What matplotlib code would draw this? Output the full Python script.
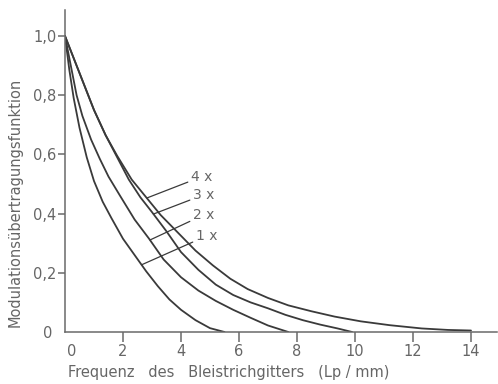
import matplotlib
matplotlib.use("Agg")
import matplotlib.pyplot as plt
import numpy as np
from matplotlib.transforms import ScaledTranslation

plt.rcParams["font.family"] = ["DejaVu Sans"]

x_1 = [0, 0.15, 0.3, 0.5, 0.75, 1.0, 1.3, 1.6, 2.0, 2.4, 2.8, 3.2, 3.6, 4.0, 4.5, 5.0, 5.5]
mtf_1 = [1.0, 0.885, 0.79, 0.69, 0.59, 0.51, 0.44, 0.385, 0.315, 0.26, 0.205, 0.155, 0.11,
         0.075, 0.04, 0.013, 0.0]

x_2 = [0, 0.2, 0.4, 0.6, 0.9, 1.2, 1.5, 1.9, 2.4, 2.9, 3.4, 4.0, 4.6, 5.2, 5.8, 6.4, 7.0, 7.7]
mtf_2 = [1.0, 0.9, 0.8, 0.73, 0.65, 0.585, 0.525, 0.46, 0.38, 0.315, 0.245, 0.185, 0.14,
         0.105, 0.075, 0.048, 0.022, 0.0]

x_3 = [0, 0.3, 0.6, 1.0, 1.4, 1.8, 2.2, 2.6, 3.0, 3.5, 4.0, 4.6, 5.2, 5.8, 6.4, 7.0, 7.6,
       8.2, 8.8, 9.4, 9.9]
mtf_3 = [1.0, 0.925, 0.85, 0.75, 0.665, 0.59, 0.515, 0.455, 0.405, 0.34, 0.27, 0.21, 0.16,
         0.125, 0.1, 0.08, 0.058, 0.04, 0.025, 0.012, 0.0]

x_4 = [0, 0.3, 0.6, 1.0, 1.4, 1.8, 2.3, 2.8, 3.3, 3.9, 4.5, 5.1, 5.7, 6.3, 7.0, 7.7, 8.5,
       9.3, 10.2, 11.2, 12.3, 13.2, 14.0]
mtf_4 = [1.0, 0.925, 0.85, 0.75, 0.665, 0.595, 0.515, 0.455, 0.395, 0.335, 0.275, 0.225,
         0.18, 0.145, 0.115, 0.09, 0.07, 0.052, 0.036, 0.023, 0.012, 0.007, 0.005]

curve_labels = ["4 x", "3 x", "2 x", "1 x"]
# Hinweislinien: Textposition und Frequenz des Anschlusspunkts auf der Kurve
label_pos = [(4.33, 0.524), (4.40, 0.463), (4.40, 0.395), (4.50, 0.324)]
label_hit_x = [2.82, 3.05, 2.93, 2.64]

x_ticks = [0, 2, 4, 6, 8, 10, 12, 14]
y_ticks = [0, 0.2, 0.4, 0.6, 0.8, 1.0]
y_ticklabels = ["0", "0,2", "0,4", "0,6", "0,8", "1,0"]

LINE = "#3a3a3a"
AXIS = "#6a6a6a"
TEXT = "#666666"

fig = plt.figure(figsize=(4.98, 3.84), dpi=100)
ax = fig.add_axes([65 / 498, 52 / 384, 432 / 498, 322 / 384])

curves = [(x_4, mtf_4), (x_3, mtf_3), (x_2, mtf_2), (x_1, mtf_1)]
for xs, ys in curves:
    ax.plot(xs, ys, color=LINE, linewidth=1.3, solid_capstyle="round")

for (xs, ys), text, pos, hx in zip(curves, curve_labels, label_pos, label_hit_x):
    hy = float(np.interp(hx, xs, ys))
    ax.annotate(text, xy=(hx, hy), xytext=pos, color=TEXT, fontsize=10,
                ha="left", va="center",
                arrowprops=dict(arrowstyle="-", color=LINE, linewidth=0.9,
                                shrinkA=0, shrinkB=0))

ax.set_xlim(0, 432 / 29)
ax.set_ylim(0, 322 / 296)

for side in ("top", "right"):
    ax.spines[side].set_visible(False)
for side in ("left", "bottom"):
    ax.spines[side].set_color(AXIS)
    ax.spines[side].set_linewidth(1.1)

ax.set_xticks(x_ticks)
ax.set_xticklabels([str(t) for t in x_ticks])
ax.set_yticks(y_ticks)
ax.set_yticklabels(y_ticklabels)
ax.tick_params(axis="x", direction="out", length=7, width=1.1, color=AXIS,
               labelcolor=TEXT, labelsize=10.5, pad=2)
ax.tick_params(axis="y", direction="out", length=5, width=1.1, color=AXIS,
               labelcolor=TEXT, labelsize=10.5, pad=1)

# keine Striche am Ursprung, die "0" unten etwas nach rechts
ax.xaxis.get_major_ticks()[0].tick1line.set_visible(False)
ax.yaxis.get_major_ticks()[0].tick1line.set_visible(False)
zero_lbl = ax.get_xticklabels()[0]
zero_lbl.set_transform(zero_lbl.get_transform() + ScaledTranslation(0.07, 0, fig.dpi_scale_trans))
zero_y = ax.get_yticklabels()[0]
zero_y.set_transform(zero_y.get_transform() + ScaledTranslation(-0.04, 0, fig.dpi_scale_trans))

fig.text(15 / 498, 1 - 202 / 384, "Modulationsübertragungsfunktion", rotation=90,
         ha="center", va="center", color=TEXT, fontsize=10.5)
fig.text(68 / 498, 1 - 372 / 384, "Frequenz   des   Bleistrichgitters   (Lp / mm)",
         ha="left", va="center", color=TEXT, fontsize=10.5)

fig.savefig("out.png", dpi=100)
